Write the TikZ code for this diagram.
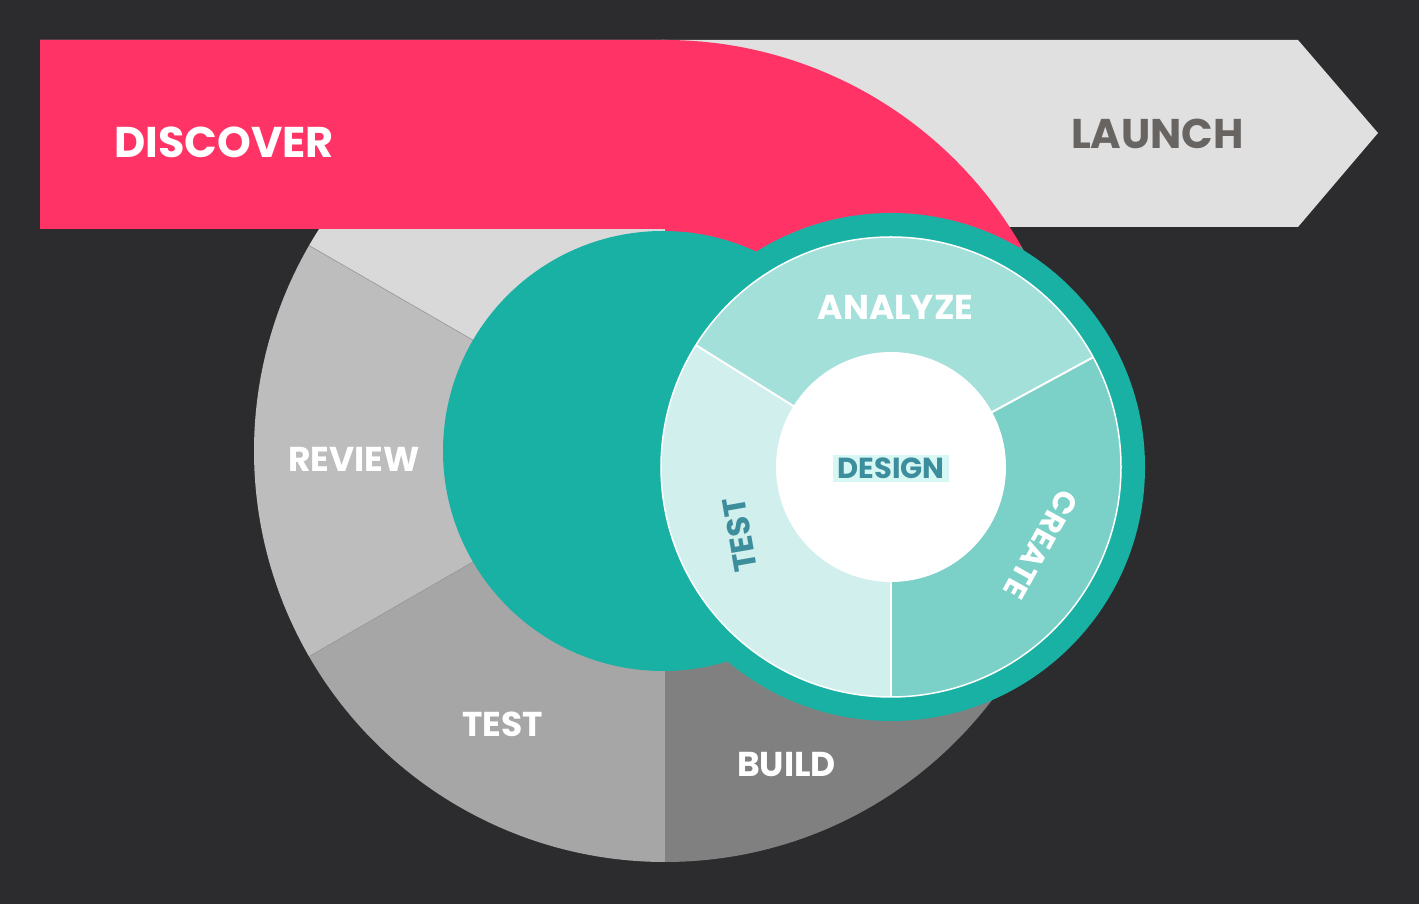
\documentclass[tikz,border=0pt]{standalone}
\usepackage{fontspec}
\setmainfont{Poppins}
\definecolor{bg}{HTML}{2C2C2E}
\definecolor{launchgray}{HTML}{E0E0E0}
\definecolor{launchtext}{HTML}{676462}
\definecolor{pinkc}{HTML}{FF3366}
\definecolor{gA}{HTML}{D9D9D9}
\definecolor{gB}{HTML}{BDBDBD}
\definecolor{gC}{HTML}{A6A6A6}
\definecolor{gD}{HTML}{808080}
\definecolor{seam}{HTML}{9A9A9A}
\definecolor{tealc}{HTML}{1AB1A5}
\definecolor{wA}{HTML}{A3E0DA}
\definecolor{wT}{HTML}{D1EFEC}
\definecolor{wC}{HTML}{7BD0C8}
\definecolor{dtext}{HTML}{3D8E9C}
\definecolor{dbox}{HTML}{D6F7F4}
\begin{document}
\begin{tikzpicture}[x=1pt,y=1pt,
  lbl/.style={font=\bfseries\fontsize{34.5}{34.5}\selectfont, text=white, inner sep=0pt},
  biglbl/.style={font=\bfseries\fontsize{43}{43}\selectfont, inner sep=0pt},
  wlbl/.style={font=\bfseries\fontsize{32}{32}\selectfont, inner sep=0pt}]
\fill[bg] (0,0) rectangle (1419,904);
\useasboundingbox (0,0) rectangle (1419,904);
% launch arrow
\fill[launchgray] (40,864) -- (1298,864) -- (1378,771) -- (1298,677) -- (40,677) -- cycle;
% big circle sectors
\coordinate (C) at (665,453);
\fill[gA] (C) -- +(90:411) arc[start angle=90,end angle=150,radius=411] -- cycle;
\fill[gB] (C) -- +(150:411) arc[start angle=150,end angle=210,radius=411] -- cycle;
\fill[gC] (C) -- +(210:411) arc[start angle=210,end angle=270,radius=411] -- cycle;
\fill[gD] (C) -- +(270:411) arc[start angle=270,end angle=390,radius=411] -- cycle;
\draw[seam, line width=0.6] (C) -- +(150:411);
\draw[seam, line width=0.6] (C) -- +(210:411);
% discover shape
\fill[pinkc] (40,864) -- (665,864) arc[start angle=90,end angle=30,radius=411]
  -- (C) -- (665,675) -- (40,675) -- cycle;
% teal circles
\fill[tealc] (663,453) circle[radius=220];
\coordinate (W) at (891,437);
\fill[tealc] (W) circle[radius=254];
% wheel
\fill[wA] (W) -- +(28.5:230) arc[start angle=28.5,end angle=148,radius=230] -- cycle;
\fill[wT] (W) -- +(148:230) arc[start angle=148,end angle=270,radius=230] -- cycle;
\fill[wC] (W) -- +(270:230) arc[start angle=270,end angle=388.5,radius=230] -- cycle;
\draw[white, line width=2] (W) -- +(28.5:230);
\draw[white, line width=2] (W) -- +(148:230);
\draw[white, line width=2] (W) -- +(270:230);
\draw[white, line width=1.5] (W) circle[radius=230];
\fill[white] (W) circle[radius=115];
% labels
\node[biglbl, text=white] (discover) at (224,762) {DISCOVER};
\node[biglbl, text=launchtext, font=\bfseries\fontsize{41.5}{41.5}\selectfont] (launch) at (1157.5,770.5) {LAUNCH};
\node[lbl] (review) at (354,445) {REVIEW};
\node[lbl] (testout) at (502.5,180) {TEST};
\node[lbl] (build) at (786.5,139) {BUILD};
\node[lbl] (analyze) at (895.5,596.5) {ANALYZE};
\node[wlbl, text=dtext, fill=dbox, inner xsep=4pt, inner ysep=3pt, font=\bfseries\fontsize{29}{29}\selectfont] (design) at (891,435.5) {DESIGN};
\node[wlbl, text=dtext, rotate=100] (testin) at (740,369) {TEST};
\node[wlbl, text=white, font=\bfseries\fontsize{31}{31}\selectfont, rotate=-119] (create) at (1041,359) {CREATE};
\end{tikzpicture}
\end{document}
